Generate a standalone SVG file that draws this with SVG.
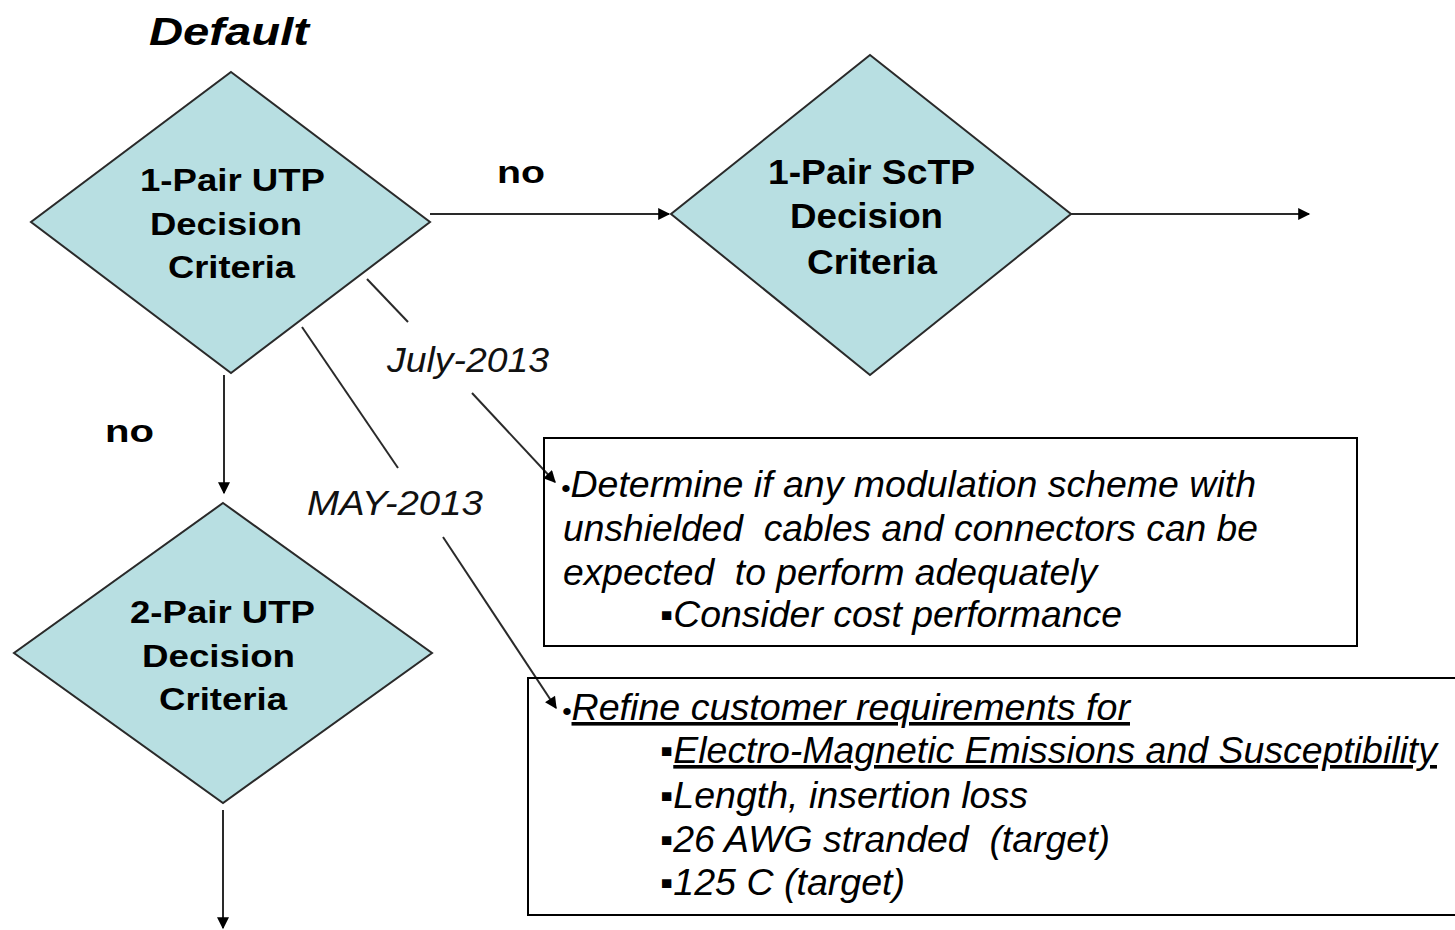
<svg xmlns="http://www.w3.org/2000/svg" width="1455" height="930" viewBox="0 0 1455 930">
<style>
.dia{fill:#b8dfe2;stroke:#2a2a2a;stroke-width:2}
.dt{font-family:"Liberation Sans",Arial,sans-serif;font-weight:bold;font-size:32px;fill:#000}
.lbl{font-family:"Liberation Sans",Arial,sans-serif;font-weight:bold;font-size:32px;fill:#000}
.date{font-family:"Liberation Sans",Arial,sans-serif;font-style:italic;font-size:35px;fill:#111}
.bt{font-family:"Liberation Sans Narrow","Liberation Sans",Arial,sans-serif;font-style:italic;font-size:36px;fill:#000;white-space:pre}
.sb{font-size:26px}
.box{fill:none;stroke:#000;stroke-width:2}
.con{stroke:#2a2a2a;stroke-width:2;fill:none}
</style>
<defs>
<marker id="ahs" viewBox="0 0 10 10" refX="9" refY="5" markerWidth="14" markerHeight="12" markerUnits="userSpaceOnUse" orient="auto">
<path d="M0,0 L10,5 L0,10 z" fill="#000"/>
</marker>
</defs>
<rect width="1455" height="930" fill="#fff"/>

<text x="229" y="45" text-anchor="middle" class="dt" style="font-style:italic;font-size:38px" textLength="160" lengthAdjust="spacingAndGlyphs">Default</text>

<g id="connectors">
<line class="con" x1="430" y1="214" x2="669" y2="214" marker-end="url(#ahs)"/>
<line class="con" x1="1071" y1="214" x2="1309" y2="214" marker-end="url(#ahs)"/>
<line class="con" x1="224" y1="375" x2="224" y2="493" marker-end="url(#ahs)"/>
<line class="con" x1="223" y1="810" x2="223" y2="928" marker-end="url(#ahs)"/>
<line class="con" x1="367" y1="279" x2="408" y2="322"/>
<line class="con" x1="472" y1="393" x2="555" y2="482" marker-end="url(#ahs)"/>
<line class="con" x1="302" y1="327" x2="398" y2="468"/>
<line class="con" x1="443" y1="537" x2="556" y2="708" marker-end="url(#ahs)"/>
<text x="497" y="183" class="lbl" textLength="48" lengthAdjust="spacingAndGlyphs">no</text>
<text x="105" y="442" class="lbl" textLength="49" lengthAdjust="spacingAndGlyphs">no</text>
<text x="387" y="372" class="date" textLength="162" lengthAdjust="spacingAndGlyphs">July-2013</text>
<text x="307" y="515" class="date" textLength="176" lengthAdjust="spacingAndGlyphs">MAY-2013</text>
</g>

<g id="node-1pair-utp">
<polygon class="dia" points="231,72 430,222 231,373 31,222"/>
<text x="140" y="191" class="dt" textLength="185" lengthAdjust="spacingAndGlyphs">1-Pair UTP</text>
<text x="150" y="235" class="dt" textLength="152" lengthAdjust="spacingAndGlyphs">Decision</text>
<text x="168" y="278" class="dt" textLength="127" lengthAdjust="spacingAndGlyphs">Criteria</text>
</g>

<g id="node-1pair-sctp">
<polygon class="dia" points="870,55 1071,214 870,375 671,214"/>
<text x="768" y="184" class="dt" style="font-size:35px" textLength="207" lengthAdjust="spacingAndGlyphs">1-Pair ScTP</text>
<text x="790" y="228" class="dt" style="font-size:35px" textLength="153" lengthAdjust="spacingAndGlyphs">Decision</text>
<text x="807" y="274" class="dt" style="font-size:35px" textLength="130" lengthAdjust="spacingAndGlyphs">Criteria</text>
</g>

<g id="node-2pair-utp">
<polygon class="dia" points="223,503 432,653 223,803 14,653"/>
<text x="130" y="623" class="dt" textLength="185" lengthAdjust="spacingAndGlyphs">2-Pair UTP</text>
<text x="142" y="667" class="dt" textLength="153" lengthAdjust="spacingAndGlyphs">Decision</text>
<text x="159" y="710" class="dt" textLength="128" lengthAdjust="spacingAndGlyphs">Criteria</text>
</g>

<g id="note-july">
<rect class="box" x="544" y="438" width="813" height="208"/>
<text x="561" y="497" class="bt" textLength="695" lengthAdjust="spacingAndGlyphs"><tspan class="sb">•</tspan>Determine if any modulation scheme with</text>
<text x="563" y="541" class="bt" textLength="695" lengthAdjust="spacingAndGlyphs">unshielded  cables and connectors can be</text>
<text x="563" y="585" class="bt" textLength="534" lengthAdjust="spacingAndGlyphs">expected  to perform adequately</text>
<text x="660" y="627" class="bt" textLength="462" lengthAdjust="spacingAndGlyphs">▪Consider cost performance</text>
</g>

<g id="note-may">
<rect class="box" x="528" y="678" width="940" height="237"/>
<text x="562" y="720" class="bt" textLength="568" lengthAdjust="spacingAndGlyphs"><tspan class="sb">•</tspan><tspan text-decoration="underline">Refine customer requirements for</tspan></text>
<text x="660" y="763" class="bt" textLength="777" lengthAdjust="spacingAndGlyphs">▪<tspan text-decoration="underline">Electro-Magnetic Emissions and Susceptibility</tspan></text>
<text x="660" y="808" class="bt" textLength="368" lengthAdjust="spacingAndGlyphs">▪Length, insertion loss</text>
<text x="660" y="852" class="bt" textLength="450" lengthAdjust="spacingAndGlyphs">▪26 AWG stranded  (target)</text>
<text x="660" y="895" class="bt" textLength="245" lengthAdjust="spacingAndGlyphs">▪125 C (target)</text>
</g>
</svg>
